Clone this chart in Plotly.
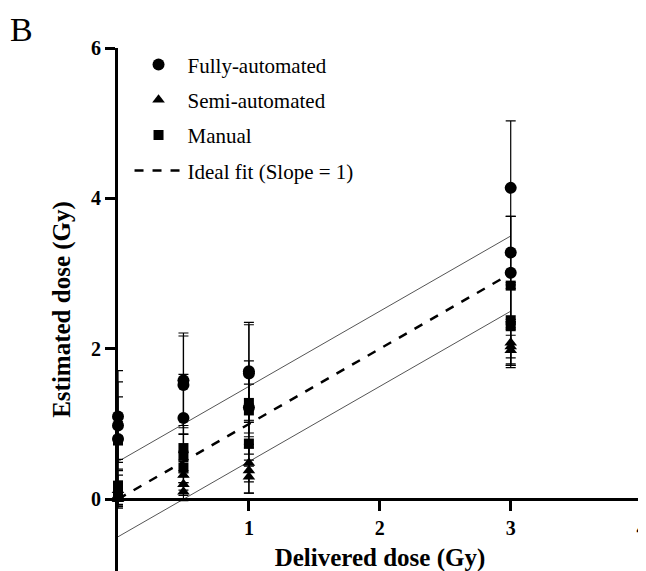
import plotly.graph_objects as go

# ---- data ----
fully_x = [0, 0, 0, 0.5, 0.5, 0.5, 1, 1, 1, 3, 3, 3]
fully_y = [1.10, 0.98, 0.80, 1.58, 1.52, 1.08, 1.70, 1.67, 1.22, 4.14, 3.28, 3.01]
fully_err = [0.61, 0.58, 0.56, 0.63, 0.65, 0.58, 0.65, 0.65, 0.62, 0.89, 0.48, 0.75]

semi_x = [0, 0, 0, 0.5, 0.5, 0.5, 1, 1, 1, 3, 3, 3]
semi_y = [0.00, 0.05, 0.12, 0.10, 0.20, 0.32, 0.48, 0.38, 0.30, 2.08, 2.03, 1.98]
semi_err = [0.12, 0.15, 0.20, 0.12, 0.15, 0.20, 0.25, 0.30, 0.22, 0.28, 0.25, 0.20]

manual_x = [0, 0, 0, 0.5, 0.5, 0.5, 1, 1, 1, 3, 3, 3]
manual_y = [0.78, 0.18, 0.08, 0.68, 0.58, 0.42, 1.28, 1.18, 0.74, 2.84, 2.38, 2.30]
manual_err = [0.25, 0.20, 0.15, 0.30, 0.28, 0.20, 0.40, 0.35, 0.30, 0.45, 0.50, 0.55]

ideal_x = [0, 3]
ideal_y = [0, 3]
band_offset = 0.5

x_ticks = [1, 2, 3, 4]
y_ticks = [0, 2, 4, 6]
y_range = [-0.955, 6]
x_range = [0, 4.003]

FONT = "Liberation Serif"

W, H = 646, 571
ML, MR, MT, MB = 110, 12, 40, 8
PW, PH = W - ML - MR, H - MT - MB

fig = go.Figure()

# tolerance lines
for off in (band_offset, -band_offset):
    fig.add_trace(go.Scatter(
        x=ideal_x, y=[v + off for v in ideal_y], mode="lines",
        line=dict(color="#555555", width=1), showlegend=False, hoverinfo="skip"))

def err(arr):
    return dict(type="data", array=arr, visible=True, color="black", thickness=1.2, width=5)

fig.add_trace(go.Scatter(
    x=fully_x, y=fully_y, mode="markers", name="Fully-automated",
    marker=dict(symbol="circle", size=12, color="black"),
    error_y=err(fully_err), cliponaxis=False, legendrank=1, legendgroup="a"))
fig.add_trace(go.Scatter(
    x=semi_x, y=semi_y, mode="markers", name="Semi-automated",
    marker=dict(symbol="triangle-up", size=11, color="black"),
    error_y=err(semi_err), cliponaxis=False, legendrank=2, legendgroup="b"))
fig.add_trace(go.Scatter(
    x=manual_x, y=manual_y, mode="markers", name="Manual",
    marker=dict(symbol="square", size=10, color="black"),
    error_y=err(manual_err), cliponaxis=False, legendrank=3, legendgroup="c"))
fig.add_trace(go.Scatter(
    x=ideal_x, y=ideal_y, mode="lines", name="Ideal fit (Slope = 1)",
    line=dict(color="black", width=2.5, dash="dash"), legendrank=4, legendgroup="d"))

xpos = (0 - y_range[0]) / (y_range[1] - y_range[0])

fig.update_layout(
    width=W, height=H,
    margin=dict(l=ML, r=MR, t=MT, b=MB, autoexpand=False),
    paper_bgcolor="white", plot_bgcolor="white",
    font=dict(family=FONT, color="black"),
    showlegend=True,
    legend=dict(x=0.022, y=1.007, xanchor="left", yanchor="top",
                font=dict(family=FONT, size=21, color="black"),
                bgcolor="rgba(0,0,0,0)", traceorder="grouped", tracegroupgap=5,
                itemwidth=48),
    xaxis=dict(range=x_range, tickvals=x_ticks, showgrid=False, zeroline=False,
               showline=True, linecolor="black", linewidth=3,
               ticks="outside", ticklen=10, tickwidth=3, tickcolor="black",
               anchor="free", position=xpos, automargin=False,
               ticklabeloverflow="allow",
               tickfont=dict(family=FONT, size=20, color="black", weight="bold"),
               title=dict(text="<b>Delivered dose (Gy)</b>", standoff=10,
                          font=dict(family=FONT, size=25, color="black"))),
    yaxis=dict(range=y_range, tickvals=y_ticks, showgrid=False, zeroline=False,
               showline=True, linecolor="black", linewidth=3,
               ticks="outside", ticklen=10, tickwidth=3, tickcolor="black",
               automargin=False,
               tickfont=dict(family=FONT, size=20, color="black", weight="bold"),
               title=dict(text="<b>Estimated dose (Gy)</b>", standoff=14,
                          font=dict(family=FONT, size=25, color="black"))),
    annotations=[dict(text="B", xref="paper", yref="paper",
                      x=(13 - ML) / PW, y=1 + (MT - 21) / PH,
                      xanchor="center", yanchor="middle", showarrow=False,
                      font=dict(family=FONT, size=34, color="black"))],
)

fig.write_html("out.html")
